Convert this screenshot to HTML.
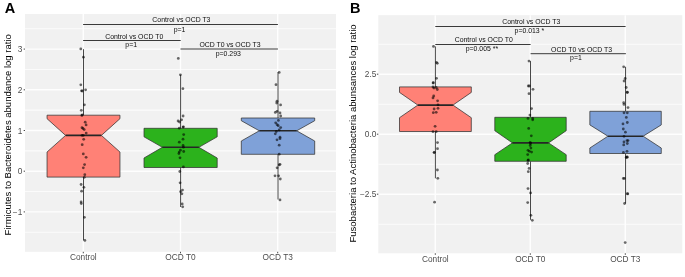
<!DOCTYPE html>
<html><head><meta charset="utf-8"><style>
html,body{margin:0;padding:0;background:#fff;}
body{width:685px;height:277px;overflow:hidden;}
svg{display:block;will-change:transform;filter:blur(0.3px);font-family:"Liberation Sans", sans-serif;}
</style></head><body>
<svg width="685" height="277" viewBox="0 0 685 277">
<rect width="685" height="277" fill="#fff"/>
<rect x="25" y="14" width="311" height="237.8" fill="#F1F1F1"/>
<line x1="25" x2="336" y1="232.25" y2="232.25" stroke="#FBFBFB" stroke-width="1.1"/>
<line x1="25" x2="336" y1="191.55" y2="191.55" stroke="#FBFBFB" stroke-width="1.1"/>
<line x1="25" x2="336" y1="150.85" y2="150.85" stroke="#FBFBFB" stroke-width="1.1"/>
<line x1="25" x2="336" y1="110.15" y2="110.15" stroke="#FBFBFB" stroke-width="1.1"/>
<line x1="25" x2="336" y1="69.45" y2="69.45" stroke="#FBFBFB" stroke-width="1.1"/>
<line x1="25" x2="336" y1="28.75" y2="28.75" stroke="#FBFBFB" stroke-width="1.1"/>
<line x1="25" x2="336" y1="211.90" y2="211.90" stroke="#FEFEFE" stroke-width="1.4"/>
<line x1="25" x2="336" y1="171.20" y2="171.20" stroke="#FEFEFE" stroke-width="1.4"/>
<line x1="25" x2="336" y1="130.50" y2="130.50" stroke="#FEFEFE" stroke-width="1.4"/>
<line x1="25" x2="336" y1="89.80" y2="89.80" stroke="#FEFEFE" stroke-width="1.4"/>
<line x1="25" x2="336" y1="49.10" y2="49.10" stroke="#FEFEFE" stroke-width="1.4"/>
<line x1="83.30" x2="83.30" y1="14" y2="251.8" stroke="#FEFEFE" stroke-width="1.4"/>
<line x1="180.50" x2="180.50" y1="14" y2="251.8" stroke="#FEFEFE" stroke-width="1.4"/>
<line x1="277.70" x2="277.70" y1="14" y2="251.8" stroke="#FEFEFE" stroke-width="1.4"/>
<rect x="378.3" y="15.2" width="303.99999999999994" height="238.10000000000002" fill="#F1F1F1"/>
<line x1="378.3" x2="682.3" y1="224.20" y2="224.20" stroke="#FBFBFB" stroke-width="1.1"/>
<line x1="378.3" x2="682.3" y1="164.20" y2="164.20" stroke="#FBFBFB" stroke-width="1.1"/>
<line x1="378.3" x2="682.3" y1="104.20" y2="104.20" stroke="#FBFBFB" stroke-width="1.1"/>
<line x1="378.3" x2="682.3" y1="44.20" y2="44.20" stroke="#FBFBFB" stroke-width="1.1"/>
<line x1="378.3" x2="682.3" y1="194.20" y2="194.20" stroke="#FEFEFE" stroke-width="1.4"/>
<line x1="378.3" x2="682.3" y1="134.20" y2="134.20" stroke="#FEFEFE" stroke-width="1.4"/>
<line x1="378.3" x2="682.3" y1="74.20" y2="74.20" stroke="#FEFEFE" stroke-width="1.4"/>
<line x1="435.30" x2="435.30" y1="15.2" y2="253.3" stroke="#FEFEFE" stroke-width="1.4"/>
<line x1="530.30" x2="530.30" y1="15.2" y2="253.3" stroke="#FEFEFE" stroke-width="1.4"/>
<line x1="625.30" x2="625.30" y1="15.2" y2="253.3" stroke="#FEFEFE" stroke-width="1.4"/>
<line x1="83.5" x2="83.5" y1="49.2" y2="115.2" stroke="#333333" stroke-width="0.9"/>
<line x1="83.5" x2="83.5" y1="177.1" y2="240.4" stroke="#333333" stroke-width="0.9"/>
<polygon points="47.05,115.20 119.95,115.20 119.95,118.70 101.40,135.40 119.95,152.00 119.95,177.10 47.05,177.10 47.05,152.00 65.60,135.40 47.05,118.70" fill="#FF8176" stroke="#333333" stroke-width="0.75" stroke-linejoin="round"/>
<line x1="65.60" x2="101.40" y1="135.4" y2="135.4" stroke="#262626" stroke-width="1.6"/>
<line x1="180.6" x2="180.6" y1="74.8" y2="128.3" stroke="#333333" stroke-width="0.9"/>
<line x1="180.6" x2="180.6" y1="167.5" y2="207.0" stroke="#333333" stroke-width="0.9"/>
<polygon points="144.00,128.30 217.20,128.30 217.20,136.80 198.85,147.30 217.20,158.00 217.20,167.50 144.00,167.50 144.00,158.00 162.35,147.30 144.00,136.80" fill="#2CB21C" stroke="#333333" stroke-width="0.75" stroke-linejoin="round"/>
<line x1="162.35" x2="198.85" y1="147.3" y2="147.3" stroke="#262626" stroke-width="1.6"/>
<line x1="278.0" x2="278.0" y1="72.1" y2="118.0" stroke="#333333" stroke-width="0.9"/>
<line x1="278.0" x2="278.0" y1="154.3" y2="199.5" stroke="#333333" stroke-width="0.9"/>
<polygon points="241.30,118.00 314.70,118.00 314.70,120.70 296.70,130.80 314.70,141.00 314.70,154.30 241.30,154.30 241.30,141.00 259.30,130.80 241.30,120.70" fill="#7FA1D8" stroke="#333333" stroke-width="0.75" stroke-linejoin="round"/>
<line x1="259.30" x2="296.70" y1="130.8" y2="130.8" stroke="#262626" stroke-width="1.6"/>
<line x1="435.4" x2="435.4" y1="46.4" y2="86.9" stroke="#333333" stroke-width="0.9"/>
<line x1="435.4" x2="435.4" y1="131.5" y2="178.3" stroke="#333333" stroke-width="0.9"/>
<polygon points="399.50,86.90 471.30,86.90 471.30,92.40 452.95,105.10 471.30,117.70 471.30,131.50 399.50,131.50 399.50,117.70 417.85,105.10 399.50,92.40" fill="#FF8176" stroke="#333333" stroke-width="0.75" stroke-linejoin="round"/>
<line x1="417.85" x2="452.95" y1="105.1" y2="105.1" stroke="#262626" stroke-width="1.6"/>
<line x1="530.5" x2="530.5" y1="61.1" y2="117.3" stroke="#333333" stroke-width="0.9"/>
<line x1="530.5" x2="530.5" y1="161.3" y2="219.8" stroke="#333333" stroke-width="0.9"/>
<polygon points="494.80,117.30 566.20,117.30 566.20,130.70 548.60,142.90 566.20,154.70 566.20,161.30 494.80,161.30 494.80,154.70 512.40,142.90 494.80,130.70" fill="#2CB21C" stroke="#333333" stroke-width="0.75" stroke-linejoin="round"/>
<line x1="512.40" x2="548.60" y1="142.9" y2="142.9" stroke="#262626" stroke-width="1.6"/>
<line x1="625.55" x2="625.55" y1="66.8" y2="111.3" stroke="#333333" stroke-width="0.9"/>
<line x1="625.55" x2="625.55" y1="153.5" y2="203.5" stroke="#333333" stroke-width="0.9"/>
<polygon points="589.85,111.30 661.25,111.30 661.25,124.90 643.15,136.20 661.25,148.00 661.25,153.50 589.85,153.50 589.85,148.00 607.95,136.20 589.85,124.90" fill="#7FA1D8" stroke="#333333" stroke-width="0.75" stroke-linejoin="round"/>
<line x1="607.95" x2="643.15" y1="136.2" y2="136.2" stroke="#262626" stroke-width="1.6"/>
<circle cx="80.8" cy="48.9" r="1.4" fill="rgba(0,0,0,0.58)"/>
<circle cx="83.4" cy="57.2" r="1.4" fill="rgba(0,0,0,0.58)"/>
<circle cx="80.8" cy="84.8" r="1.4" fill="rgba(0,0,0,0.58)"/>
<circle cx="81.5" cy="90.8" r="1.4" fill="rgba(0,0,0,0.58)"/>
<circle cx="82.3" cy="91.0" r="1.4" fill="rgba(0,0,0,0.58)"/>
<circle cx="85.6" cy="89.8" r="1.4" fill="rgba(0,0,0,0.58)"/>
<circle cx="84.4" cy="104.8" r="1.4" fill="rgba(0,0,0,0.58)"/>
<circle cx="81.3" cy="110.3" r="1.4" fill="rgba(0,0,0,0.58)"/>
<circle cx="82.3" cy="114.9" r="1.4" fill="rgba(0,0,0,0.58)"/>
<circle cx="81.8" cy="115.4" r="1.4" fill="rgba(0,0,0,0.58)"/>
<circle cx="85.2" cy="122.2" r="1.4" fill="rgba(0,0,0,0.58)"/>
<circle cx="86.1" cy="124.9" r="1.4" fill="rgba(0,0,0,0.58)"/>
<circle cx="82" cy="127.7" r="1.4" fill="rgba(0,0,0,0.58)"/>
<circle cx="83" cy="128.5" r="1.4" fill="rgba(0,0,0,0.58)"/>
<circle cx="84.2" cy="129.6" r="1.4" fill="rgba(0,0,0,0.58)"/>
<circle cx="86.2" cy="133.1" r="1.4" fill="rgba(0,0,0,0.58)"/>
<circle cx="82" cy="135.3" r="1.4" fill="rgba(0,0,0,0.58)"/>
<circle cx="83.3" cy="135.3" r="1.4" fill="rgba(0,0,0,0.58)"/>
<circle cx="83.7" cy="139.3" r="1.4" fill="rgba(0,0,0,0.58)"/>
<circle cx="82.2" cy="144.7" r="1.4" fill="rgba(0,0,0,0.58)"/>
<circle cx="83.3" cy="153.9" r="1.4" fill="rgba(0,0,0,0.58)"/>
<circle cx="86.1" cy="157.3" r="1.4" fill="rgba(0,0,0,0.58)"/>
<circle cx="84.6" cy="164.6" r="1.4" fill="rgba(0,0,0,0.58)"/>
<circle cx="83.3" cy="167.8" r="1.4" fill="rgba(0,0,0,0.58)"/>
<circle cx="84.8" cy="174.7" r="1.4" fill="rgba(0,0,0,0.58)"/>
<circle cx="84.3" cy="177.3" r="1.4" fill="rgba(0,0,0,0.58)"/>
<circle cx="81.1" cy="184.5" r="1.4" fill="rgba(0,0,0,0.58)"/>
<circle cx="83.9" cy="187.3" r="1.4" fill="rgba(0,0,0,0.58)"/>
<circle cx="81.6" cy="191.2" r="1.4" fill="rgba(0,0,0,0.58)"/>
<circle cx="81.1" cy="202.0" r="1.4" fill="rgba(0,0,0,0.58)"/>
<circle cx="81.3" cy="203.6" r="1.4" fill="rgba(0,0,0,0.58)"/>
<circle cx="84.4" cy="217.3" r="1.4" fill="rgba(0,0,0,0.58)"/>
<circle cx="84.9" cy="240.4" r="1.4" fill="rgba(0,0,0,0.58)"/>
<circle cx="178.3" cy="58.4" r="1.4" fill="rgba(0,0,0,0.58)"/>
<circle cx="180.4" cy="74.8" r="1.4" fill="rgba(0,0,0,0.58)"/>
<circle cx="182.9" cy="88.7" r="1.4" fill="rgba(0,0,0,0.58)"/>
<circle cx="183.1" cy="116" r="1.4" fill="rgba(0,0,0,0.58)"/>
<circle cx="181.6" cy="119.8" r="1.4" fill="rgba(0,0,0,0.58)"/>
<circle cx="178.1" cy="121" r="1.4" fill="rgba(0,0,0,0.58)"/>
<circle cx="179.6" cy="122" r="1.4" fill="rgba(0,0,0,0.58)"/>
<circle cx="183.1" cy="127.1" r="1.4" fill="rgba(0,0,0,0.58)"/>
<circle cx="179.3" cy="128.2" r="1.4" fill="rgba(0,0,0,0.58)"/>
<circle cx="183.4" cy="126.8" r="1.4" fill="rgba(0,0,0,0.58)"/>
<circle cx="183.7" cy="134.6" r="1.4" fill="rgba(0,0,0,0.58)"/>
<circle cx="183" cy="139.2" r="1.4" fill="rgba(0,0,0,0.58)"/>
<circle cx="179.3" cy="142.2" r="1.4" fill="rgba(0,0,0,0.58)"/>
<circle cx="183.1" cy="145.4" r="1.4" fill="rgba(0,0,0,0.58)"/>
<circle cx="183.4" cy="147.2" r="1.4" fill="rgba(0,0,0,0.58)"/>
<circle cx="180.4" cy="150.2" r="1.4" fill="rgba(0,0,0,0.58)"/>
<circle cx="183.7" cy="151.5" r="1.4" fill="rgba(0,0,0,0.58)"/>
<circle cx="179.2" cy="152.1" r="1.4" fill="rgba(0,0,0,0.58)"/>
<circle cx="178.9" cy="153.6" r="1.4" fill="rgba(0,0,0,0.58)"/>
<circle cx="180" cy="157.8" r="1.4" fill="rgba(0,0,0,0.58)"/>
<circle cx="183.4" cy="166.9" r="1.4" fill="rgba(0,0,0,0.58)"/>
<circle cx="179.8" cy="171.5" r="1.4" fill="rgba(0,0,0,0.58)"/>
<circle cx="180.1" cy="182.8" r="1.4" fill="rgba(0,0,0,0.58)"/>
<circle cx="180.6" cy="191.7" r="1.4" fill="rgba(0,0,0,0.58)"/>
<circle cx="182.5" cy="190.1" r="1.4" fill="rgba(0,0,0,0.58)"/>
<circle cx="181.9" cy="193.8" r="1.4" fill="rgba(0,0,0,0.58)"/>
<circle cx="182.2" cy="203.9" r="1.4" fill="rgba(0,0,0,0.58)"/>
<circle cx="182.7" cy="206.8" r="1.4" fill="rgba(0,0,0,0.58)"/>
<circle cx="279.2" cy="72.4" r="1.4" fill="rgba(0,0,0,0.58)"/>
<circle cx="276" cy="84.7" r="1.4" fill="rgba(0,0,0,0.58)"/>
<circle cx="277" cy="101.2" r="1.4" fill="rgba(0,0,0,0.58)"/>
<circle cx="276.7" cy="103" r="1.4" fill="rgba(0,0,0,0.58)"/>
<circle cx="280.6" cy="104.9" r="1.4" fill="rgba(0,0,0,0.58)"/>
<circle cx="275.3" cy="112.4" r="1.4" fill="rgba(0,0,0,0.58)"/>
<circle cx="277" cy="111.3" r="1.4" fill="rgba(0,0,0,0.58)"/>
<circle cx="280" cy="112.9" r="1.4" fill="rgba(0,0,0,0.58)"/>
<circle cx="280.7" cy="116" r="1.4" fill="rgba(0,0,0,0.58)"/>
<circle cx="278.4" cy="120.4" r="1.4" fill="rgba(0,0,0,0.58)"/>
<circle cx="275.7" cy="122.8" r="1.4" fill="rgba(0,0,0,0.58)"/>
<circle cx="277.1" cy="124.7" r="1.4" fill="rgba(0,0,0,0.58)"/>
<circle cx="278.2" cy="125.7" r="1.4" fill="rgba(0,0,0,0.58)"/>
<circle cx="280.7" cy="127.6" r="1.4" fill="rgba(0,0,0,0.58)"/>
<circle cx="279.2" cy="130" r="1.4" fill="rgba(0,0,0,0.58)"/>
<circle cx="276.3" cy="131.5" r="1.4" fill="rgba(0,0,0,0.58)"/>
<circle cx="275.3" cy="133.8" r="1.4" fill="rgba(0,0,0,0.58)"/>
<circle cx="280" cy="137.2" r="1.4" fill="rgba(0,0,0,0.58)"/>
<circle cx="277" cy="139.8" r="1.4" fill="rgba(0,0,0,0.58)"/>
<circle cx="280" cy="138.7" r="1.4" fill="rgba(0,0,0,0.58)"/>
<circle cx="279.2" cy="145.2" r="1.4" fill="rgba(0,0,0,0.58)"/>
<circle cx="279.2" cy="154.2" r="1.4" fill="rgba(0,0,0,0.58)"/>
<circle cx="280" cy="164.3" r="1.4" fill="rgba(0,0,0,0.58)"/>
<circle cx="279.2" cy="164.9" r="1.4" fill="rgba(0,0,0,0.58)"/>
<circle cx="277.1" cy="167.8" r="1.4" fill="rgba(0,0,0,0.58)"/>
<circle cx="275" cy="175.8" r="1.4" fill="rgba(0,0,0,0.58)"/>
<circle cx="278.6" cy="175.8" r="1.4" fill="rgba(0,0,0,0.58)"/>
<circle cx="280.3" cy="179" r="1.4" fill="rgba(0,0,0,0.58)"/>
<circle cx="280" cy="199.9" r="1.4" fill="rgba(0,0,0,0.58)"/>
<circle cx="433.5" cy="46.4" r="1.4" fill="rgba(0,0,0,0.58)"/>
<circle cx="437.3" cy="63.3" r="1.4" fill="rgba(0,0,0,0.58)"/>
<circle cx="436.5" cy="62.4" r="1.4" fill="rgba(0,0,0,0.58)"/>
<circle cx="436.5" cy="78.3" r="1.4" fill="rgba(0,0,0,0.58)"/>
<circle cx="433.1" cy="83" r="1.4" fill="rgba(0,0,0,0.58)"/>
<circle cx="433.3" cy="82.7" r="1.4" fill="rgba(0,0,0,0.58)"/>
<circle cx="433" cy="87" r="1.4" fill="rgba(0,0,0,0.58)"/>
<circle cx="434" cy="88.1" r="1.4" fill="rgba(0,0,0,0.58)"/>
<circle cx="436.2" cy="87.5" r="1.4" fill="rgba(0,0,0,0.58)"/>
<circle cx="437.3" cy="89.5" r="1.4" fill="rgba(0,0,0,0.58)"/>
<circle cx="433.7" cy="96" r="1.4" fill="rgba(0,0,0,0.58)"/>
<circle cx="433" cy="97.9" r="1.4" fill="rgba(0,0,0,0.58)"/>
<circle cx="437.6" cy="100.8" r="1.4" fill="rgba(0,0,0,0.58)"/>
<circle cx="438" cy="104.8" r="1.4" fill="rgba(0,0,0,0.58)"/>
<circle cx="438" cy="108.3" r="1.4" fill="rgba(0,0,0,0.58)"/>
<circle cx="434.1" cy="109" r="1.4" fill="rgba(0,0,0,0.58)"/>
<circle cx="436.2" cy="112.3" r="1.4" fill="rgba(0,0,0,0.58)"/>
<circle cx="433.3" cy="112.7" r="1.4" fill="rgba(0,0,0,0.58)"/>
<circle cx="435.1" cy="126.3" r="1.4" fill="rgba(0,0,0,0.58)"/>
<circle cx="433" cy="131.7" r="1.4" fill="rgba(0,0,0,0.58)"/>
<circle cx="436.2" cy="131.7" r="1.4" fill="rgba(0,0,0,0.58)"/>
<circle cx="437.5" cy="142.6" r="1.4" fill="rgba(0,0,0,0.58)"/>
<circle cx="437.5" cy="148.7" r="1.4" fill="rgba(0,0,0,0.58)"/>
<circle cx="434.3" cy="152.3" r="1.4" fill="rgba(0,0,0,0.58)"/>
<circle cx="434.1" cy="152.6" r="1.4" fill="rgba(0,0,0,0.58)"/>
<circle cx="437.4" cy="170" r="1.4" fill="rgba(0,0,0,0.58)"/>
<circle cx="437.8" cy="178.3" r="1.4" fill="rgba(0,0,0,0.58)"/>
<circle cx="434.6" cy="202.2" r="1.4" fill="rgba(0,0,0,0.58)"/>
<circle cx="529" cy="61.1" r="1.4" fill="rgba(0,0,0,0.58)"/>
<circle cx="528.3" cy="86" r="1.4" fill="rgba(0,0,0,0.58)"/>
<circle cx="529.4" cy="86" r="1.4" fill="rgba(0,0,0,0.58)"/>
<circle cx="533" cy="89.3" r="1.4" fill="rgba(0,0,0,0.58)"/>
<circle cx="529" cy="93.7" r="1.4" fill="rgba(0,0,0,0.58)"/>
<circle cx="531.6" cy="108.6" r="1.4" fill="rgba(0,0,0,0.58)"/>
<circle cx="529.9" cy="115.1" r="1.4" fill="rgba(0,0,0,0.58)"/>
<circle cx="528" cy="118.4" r="1.4" fill="rgba(0,0,0,0.58)"/>
<circle cx="532.7" cy="118.4" r="1.4" fill="rgba(0,0,0,0.58)"/>
<circle cx="532.7" cy="119.8" r="1.4" fill="rgba(0,0,0,0.58)"/>
<circle cx="528.7" cy="128.4" r="1.4" fill="rgba(0,0,0,0.58)"/>
<circle cx="531.3" cy="135.8" r="1.4" fill="rgba(0,0,0,0.58)"/>
<circle cx="530.2" cy="142.3" r="1.4" fill="rgba(0,0,0,0.58)"/>
<circle cx="530.6" cy="143.5" r="1.4" fill="rgba(0,0,0,0.58)"/>
<circle cx="530.2" cy="145.5" r="1.4" fill="rgba(0,0,0,0.58)"/>
<circle cx="530.9" cy="148.1" r="1.4" fill="rgba(0,0,0,0.58)"/>
<circle cx="528" cy="150.3" r="1.4" fill="rgba(0,0,0,0.58)"/>
<circle cx="529.4" cy="151.3" r="1.4" fill="rgba(0,0,0,0.58)"/>
<circle cx="531.6" cy="152.1" r="1.4" fill="rgba(0,0,0,0.58)"/>
<circle cx="527.7" cy="154.6" r="1.4" fill="rgba(0,0,0,0.58)"/>
<circle cx="528.3" cy="159.9" r="1.4" fill="rgba(0,0,0,0.58)"/>
<circle cx="528" cy="160.4" r="1.4" fill="rgba(0,0,0,0.58)"/>
<circle cx="527.7" cy="163.5" r="1.4" fill="rgba(0,0,0,0.58)"/>
<circle cx="529.1" cy="168.4" r="1.4" fill="rgba(0,0,0,0.58)"/>
<circle cx="528.3" cy="171.7" r="1.4" fill="rgba(0,0,0,0.58)"/>
<circle cx="528" cy="188.6" r="1.4" fill="rgba(0,0,0,0.58)"/>
<circle cx="530.6" cy="192.9" r="1.4" fill="rgba(0,0,0,0.58)"/>
<circle cx="527.7" cy="202.6" r="1.4" fill="rgba(0,0,0,0.58)"/>
<circle cx="530.9" cy="215.3" r="1.4" fill="rgba(0,0,0,0.58)"/>
<circle cx="532.3" cy="220.3" r="1.4" fill="rgba(0,0,0,0.58)"/>
<circle cx="623.7" cy="66.8" r="1.4" fill="rgba(0,0,0,0.58)"/>
<circle cx="625.2" cy="78.5" r="1.4" fill="rgba(0,0,0,0.58)"/>
<circle cx="624.1" cy="81" r="1.4" fill="rgba(0,0,0,0.58)"/>
<circle cx="626.2" cy="87.5" r="1.4" fill="rgba(0,0,0,0.58)"/>
<circle cx="627.3" cy="92.2" r="1.4" fill="rgba(0,0,0,0.58)"/>
<circle cx="627.3" cy="92.5" r="1.4" fill="rgba(0,0,0,0.58)"/>
<circle cx="623.7" cy="102.7" r="1.4" fill="rgba(0,0,0,0.58)"/>
<circle cx="624" cy="104.4" r="1.4" fill="rgba(0,0,0,0.58)"/>
<circle cx="628" cy="107.6" r="1.4" fill="rgba(0,0,0,0.58)"/>
<circle cx="624" cy="112.8" r="1.4" fill="rgba(0,0,0,0.58)"/>
<circle cx="627.3" cy="112.8" r="1.4" fill="rgba(0,0,0,0.58)"/>
<circle cx="626.3" cy="117.4" r="1.4" fill="rgba(0,0,0,0.58)"/>
<circle cx="627.3" cy="122.5" r="1.4" fill="rgba(0,0,0,0.58)"/>
<circle cx="623" cy="123.9" r="1.4" fill="rgba(0,0,0,0.58)"/>
<circle cx="623.3" cy="129" r="1.4" fill="rgba(0,0,0,0.58)"/>
<circle cx="625.4" cy="132.2" r="1.4" fill="rgba(0,0,0,0.58)"/>
<circle cx="624" cy="136.3" r="1.4" fill="rgba(0,0,0,0.58)"/>
<circle cx="627" cy="140.6" r="1.4" fill="rgba(0,0,0,0.58)"/>
<circle cx="628" cy="140.6" r="1.4" fill="rgba(0,0,0,0.58)"/>
<circle cx="624" cy="142" r="1.4" fill="rgba(0,0,0,0.58)"/>
<circle cx="627.3" cy="143.5" r="1.4" fill="rgba(0,0,0,0.58)"/>
<circle cx="623.7" cy="144.9" r="1.4" fill="rgba(0,0,0,0.58)"/>
<circle cx="623.4" cy="152.4" r="1.4" fill="rgba(0,0,0,0.58)"/>
<circle cx="627" cy="151.3" r="1.4" fill="rgba(0,0,0,0.58)"/>
<circle cx="627" cy="157" r="1.4" fill="rgba(0,0,0,0.58)"/>
<circle cx="626.2" cy="157.5" r="1.4" fill="rgba(0,0,0,0.58)"/>
<circle cx="627.3" cy="157.2" r="1.4" fill="rgba(0,0,0,0.58)"/>
<circle cx="623.3" cy="178.4" r="1.4" fill="rgba(0,0,0,0.58)"/>
<circle cx="624.4" cy="178.4" r="1.4" fill="rgba(0,0,0,0.58)"/>
<circle cx="627.3" cy="193.7" r="1.4" fill="rgba(0,0,0,0.58)"/>
<circle cx="627.8" cy="193.9" r="1.4" fill="rgba(0,0,0,0.58)"/>
<circle cx="624.6" cy="203.5" r="1.4" fill="rgba(0,0,0,0.58)"/>
<circle cx="625.2" cy="242.6" r="1.4" fill="rgba(0,0,0,0.58)"/>
<line x1="83.1" x2="277.9" y1="24.5" y2="24.5" stroke="#3a3a3a" stroke-width="1.0"/>
<line x1="83.1" x2="180.7" y1="40.5" y2="40.5" stroke="#3a3a3a" stroke-width="1.0"/>
<line x1="180.5" x2="277.9" y1="49.0" y2="49.0" stroke="#3a3a3a" stroke-width="1.0"/>
<line x1="435.3" x2="625.6" y1="26.5" y2="26.5" stroke="#3a3a3a" stroke-width="1.0"/>
<line x1="435.3" x2="530.6" y1="44.5" y2="44.5" stroke="#3a3a3a" stroke-width="1.0"/>
<line x1="530.6" x2="625.9" y1="53.7" y2="53.7" stroke="#3a3a3a" stroke-width="1.0"/>
<text x="181.4" y="22.0" font-size="6.9" text-anchor="middle" fill="#0d0d0d" font-weight="normal" >Control vs OCD T3</text>
<text x="179.5" y="31.6" font-size="6.9" text-anchor="middle" fill="#0d0d0d" font-weight="normal" >p=1</text>
<text x="134.2" y="38.7" font-size="6.9" text-anchor="middle" fill="#0d0d0d" font-weight="normal" >Control vs OCD T0</text>
<text x="131.2" y="47.4" font-size="6.9" text-anchor="middle" fill="#0d0d0d" font-weight="normal" >p=1</text>
<text x="230.0" y="46.5" font-size="6.9" text-anchor="middle" fill="#0d0d0d" font-weight="normal" >OCD T0 vs OCD T3</text>
<text x="228.3" y="55.7" font-size="6.9" text-anchor="middle" fill="#0d0d0d" font-weight="normal" >p=0.293</text>
<text x="531.3" y="23.8" font-size="6.9" text-anchor="middle" fill="#0d0d0d" font-weight="normal" >Control vs OCD T3</text>
<text x="529.4" y="32.8" font-size="6.9" text-anchor="middle" fill="#0d0d0d" font-weight="normal" >p=0.013 *</text>
<text x="483.7" y="41.8" font-size="6.9" text-anchor="middle" fill="#0d0d0d" font-weight="normal" >Control vs OCD T0</text>
<text x="481.9" y="50.5" font-size="6.9" text-anchor="middle" fill="#0d0d0d" font-weight="normal" >p=0.005 **</text>
<text x="581.6" y="51.5" font-size="6.9" text-anchor="middle" fill="#0d0d0d" font-weight="normal" >OCD T0 vs OCD T3</text>
<text x="575.9" y="60.4" font-size="6.9" text-anchor="middle" fill="#0d0d0d" font-weight="normal" >p=1</text>
<line x1="23.7" x2="25" y1="49.10" y2="49.10" stroke="#333333" stroke-width="0.9"/>
<text x="22.3" y="52.09999999999998" font-size="8.3" text-anchor="end" fill="#4d4d4d" font-weight="normal" >3</text>
<line x1="23.7" x2="25" y1="89.80" y2="89.80" stroke="#333333" stroke-width="0.9"/>
<text x="22.3" y="92.79999999999998" font-size="8.3" text-anchor="end" fill="#4d4d4d" font-weight="normal" >2</text>
<line x1="23.7" x2="25" y1="130.50" y2="130.50" stroke="#333333" stroke-width="0.9"/>
<text x="22.3" y="133.5" font-size="8.3" text-anchor="end" fill="#4d4d4d" font-weight="normal" >1</text>
<line x1="23.7" x2="25" y1="171.20" y2="171.20" stroke="#333333" stroke-width="0.9"/>
<text x="22.3" y="174.2" font-size="8.3" text-anchor="end" fill="#4d4d4d" font-weight="normal" >0</text>
<line x1="23.7" x2="25" y1="211.90" y2="211.90" stroke="#333333" stroke-width="0.9"/>
<text x="22.3" y="214.89999999999998" font-size="8.3" text-anchor="end" fill="#4d4d4d" font-weight="normal" >−1</text>
<line x1="376.9" x2="378.3" y1="74.20" y2="74.20" stroke="#333333" stroke-width="0.9"/>
<text x="376.35" y="77.19999999999999" font-size="8.3" text-anchor="end" fill="#4d4d4d" font-weight="normal" >2.5</text>
<line x1="376.9" x2="378.3" y1="134.20" y2="134.20" stroke="#333333" stroke-width="0.9"/>
<text x="376.35" y="137.2" font-size="8.3" text-anchor="end" fill="#4d4d4d" font-weight="normal" >0.0</text>
<line x1="376.9" x2="378.3" y1="194.20" y2="194.20" stroke="#333333" stroke-width="0.9"/>
<text x="376.35" y="197.2" font-size="8.3" text-anchor="end" fill="#4d4d4d" font-weight="normal" >−2.5</text>
<line x1="83.3" x2="83.3" y1="251.8" y2="253.3" stroke="#333333" stroke-width="0.9"/>
<text x="83.3" y="260.1" font-size="8.3" text-anchor="middle" fill="#4d4d4d" font-weight="normal" >Control</text>
<line x1="180.5" x2="180.5" y1="251.8" y2="253.3" stroke="#333333" stroke-width="0.9"/>
<text x="180.5" y="260.1" font-size="8.3" text-anchor="middle" fill="#4d4d4d" font-weight="normal" >OCD T0</text>
<line x1="277.7" x2="277.7" y1="251.8" y2="253.3" stroke="#333333" stroke-width="0.9"/>
<text x="277.7" y="260.1" font-size="8.3" text-anchor="middle" fill="#4d4d4d" font-weight="normal" >OCD T3</text>
<line x1="435.3" x2="435.3" y1="253.3" y2="254.8" stroke="#333333" stroke-width="0.9"/>
<text x="435.3" y="261.6" font-size="8.3" text-anchor="middle" fill="#4d4d4d" font-weight="normal" >Control</text>
<line x1="530.3" x2="530.3" y1="253.3" y2="254.8" stroke="#333333" stroke-width="0.9"/>
<text x="530.3" y="261.6" font-size="8.3" text-anchor="middle" fill="#4d4d4d" font-weight="normal" >OCD T0</text>
<line x1="625.3" x2="625.3" y1="253.3" y2="254.8" stroke="#333333" stroke-width="0.9"/>
<text x="625.3" y="261.6" font-size="8.3" text-anchor="middle" fill="#4d4d4d" font-weight="normal" >OCD T3</text>
<text transform="translate(11.0,134.85) rotate(-90)" font-size="9.5" text-anchor="middle" fill="#000">Firmicutes to Bacteroidetes abundance log ratio</text>
<text transform="translate(356.4,133.45) rotate(-90)" font-size="9.5" text-anchor="middle" fill="#000">Fusobacteria to Actinobacteria abunsances log ratio</text>
<text x="4.8" y="13.0" font-size="14.5" text-anchor="start" fill="#000" font-weight="bold" >A</text>
<text x="350.1" y="13.0" font-size="14.5" text-anchor="start" fill="#000" font-weight="bold" >B</text>
</svg>
</body></html>
